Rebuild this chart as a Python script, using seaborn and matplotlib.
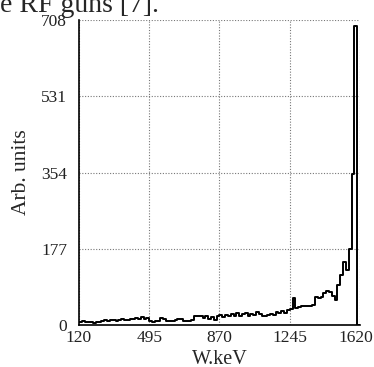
import numpy as np
import pandas as pd
import matplotlib
matplotlib.use("Agg")
import matplotlib.pyplot as plt
import matplotlib.transforms as mtransforms
import seaborn as sns

# Energy spectrum, 100 bins of 15 keV between 120 and 1620 keV
bin_edges = list(range(120, 1621, 15))
counts = [
    8, 9, 7, 8, 6, 5, 7, 6, 10, 11,
    9, 12, 11, 10, 12, 13, 12, 11, 14, 13,
    17, 15, 19, 14, 16, 10, 8, 9, 10, 16,
    15, 10, 9, 9, 11, 15, 14, 9, 10, 9,
    12, 21, 20, 22, 16, 20, 14, 18, 12, 21,
    24, 18, 23, 20, 26, 22, 27, 21, 25, 28,
    22, 26, 24, 30, 25, 22, 20, 23, 26, 24,
    30, 27, 33, 29, 35, 37, 62, 40, 42, 44,
    43, 44, 45, 46, 64, 63, 66, 75, 78, 76,
    68, 58, 93, 115, 146, 128, 176, 350, 693, 0,
]
x_ticks = [120, 495, 870, 1245, 1620]
y_ticks = [0, 177, 354, 531, 708]

df = pd.DataFrame({"energy": np.array(bin_edges[:-1]) + 7.5, "counts": counts})

sns.set_style("white")
plt.rcParams["font.family"] = ["Liberation Serif", "DejaVu Serif"]

fig = plt.figure(figsize=(3.74, 3.67), dpi=100)
ax = fig.add_axes([0.2112, 0.1144, 0.7513, 0.8311])

sns.histplot(data=df, x="energy", weights="counts", bins=bin_edges,
             element="step", fill=False, color="black", linewidth=1.4, ax=ax)

ax.set_xlim(120, 1620)
ax.set_ylim(0, 708)
ax.set_xticks(x_ticks)
ax.set_yticks(y_ticks)
ax.grid(True, linestyle=(0, (1, 1.5)), color="#777777", linewidth=0.8)
ax.tick_params(axis="both", labelsize=12.5, length=0, colors="#222222")
ax.tick_params(axis="y", pad=8.5)
ax.tick_params(axis="x", pad=3.5)

# last x label sits a little to the left so it stays inside the picture
fig.canvas.draw()
last = ax.get_xticklabels()[-1]
last.set_transform(last.get_transform() +
                   mtransforms.ScaledTranslation(-4 / 100, 0, fig.dpi_scale_trans))

for side in ["top", "right"]:
    ax.spines[side].set_visible(False)
for side in ["left", "bottom"]:
    ax.spines[side].set_color("black")
    ax.spines[side].set_linewidth(1.2)

ax.set_xlabel("W.keV", fontsize=14.5, labelpad=3)
ax.set_ylabel("Arb. units", fontsize=15.5, labelpad=7)

# caption line of the page, cut off at the top of the crop
fig.text(0.0, 0.966, "e RF guns [7].", fontsize=20, ha="left", va="baseline")

fig.savefig("out.png", dpi=100)
